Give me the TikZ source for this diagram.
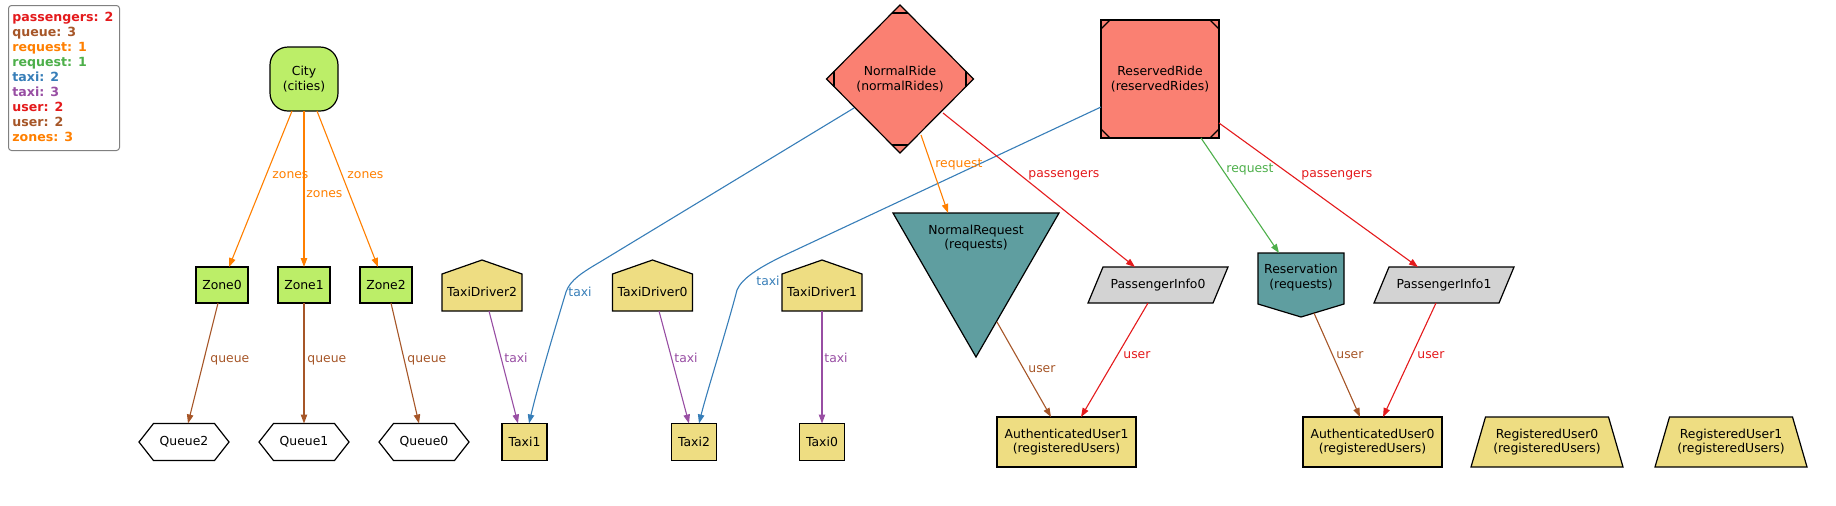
\documentclass[tikz,border=0pt]{standalone}
\usepackage{fontspec}
\setmainfont{DejaVu Sans}
\usetikzlibrary{calc,arrows.meta}
\definecolor{cgreen}{HTML}{BCEE68}
\definecolor{ckhaki}{HTML}{EEDD82}
\definecolor{csalmon}{HTML}{FA8072}
\definecolor{cteal}{HTML}{5F9EA0}
\definecolor{cgray}{HTML}{D3D3D3}
\definecolor{legbd}{HTML}{808080}
\definecolor{sred}{HTML}{E41A1C}
\definecolor{sblue}{HTML}{377EB8}
\definecolor{sgreen}{HTML}{4DAF4A}
\definecolor{spurple}{HTML}{984EA3}
\definecolor{sorange}{HTML}{FF7F00}
\definecolor{sbrown}{HTML}{A65628}
\begin{document}
\begin{tikzpicture}[x=0.5pt,y=-0.5pt,
  txt/.style={font=\fontsize{6.2}{7.35}\selectfont, inner sep=0pt, align=center},
  box/.style={txt, draw=black, line width=0.6pt},
  shp/.style={draw=black, line width=0.6pt, line join=miter},
  conn/.style={line width=0.55pt, -{Triangle[length=4.5pt,width=3.2pt]}},
  lab/.style={font=\fontsize{6.2}{7.35}\selectfont, inner sep=0pt, anchor=base west},
  leg/.style={font=\fontsize{6.3}{7.5}\selectfont\bfseries, inner sep=0pt, anchor=base west}
]
\useasboundingbox (0,0) rectangle (1836,505);

% ---------- legend ----------
\node[draw=legbd, rounded corners=1.5pt, line width=0.5pt, minimum width=55.5pt,
      minimum height=72.5pt, inner sep=0pt, anchor=north west] (legend) at (8,5) {};
\node[leg, text=sred]    (l1) at (12,21.5)  {passengers: 2};
\node[leg, text=sbrown]  (l2) at (12,36.5)  {queue: 3};
\node[leg, text=sorange] (l3) at (12,51.5)  {request: 1};
\node[leg, text=sgreen]  (l4) at (12,66.5)  {request: 1};
\node[leg, text=sblue]   (l5) at (12,81.5)  {taxi: 2};
\node[leg, text=spurple] (l6) at (12,96.5)  {taxi: 3};
\node[leg, text=sred]    (l7) at (12,111.5) {user: 2};
\node[leg, text=sbrown]  (l8) at (12,126.5) {user: 2};
\node[leg, text=sorange] (l9) at (12,141.5) {zones: 3};

% ---------- city & zones ----------
\node[box, fill=cgreen, rounded corners=9pt, minimum width=34pt, minimum height=32pt] (city) at (304,79) {City\\(cities)};
\node[box, fill=cgreen, minimum width=26pt, minimum height=18pt] (z0) at (222,285) {Zone0};
\node[box, fill=cgreen, minimum width=26pt, minimum height=18pt] (z1) at (304,285) {Zone1};
\node[box, fill=cgreen, minimum width=26pt, minimum height=18pt] (z2) at (386,285) {Zone2};

% ---------- queues (hexagons) ----------
\foreach \cx in {184,304,424}{
  \filldraw[shp, fill=white, shift={(\cx,442)}] (-45,0) -- (-30.5,-18.5) -- (30.5,-18.5) -- (45,0) -- (30.5,18.5) -- (-30.5,18.5) -- cycle;
}
\node[txt] (q2) at (184,442) {Queue2};
\node[txt] (q1) at (304,442) {Queue1};
\node[txt] (q0) at (424,442) {Queue0};

% ---------- taxi drivers (houses) ----------
\foreach \cx in {482,652.5,822}{
  \filldraw[shp, fill=ckhaki, shift={(\cx,292)}] (-40,19) -- (-40,-18) -- (0,-32) -- (40,-18) -- (40,19) -- cycle;
}
\node[txt] (td2) at (482,292) {TaxiDriver2};
\node[txt] (td0) at (652.5,292) {TaxiDriver0};
\node[txt] (td1) at (822,292) {TaxiDriver1};

% ---------- taxis ----------
\node[box, fill=ckhaki, minimum width=22.5pt, minimum height=18.5pt] (t1) at (524.5,442) {Taxi1};
\node[box, fill=ckhaki, minimum width=22.5pt, minimum height=18.5pt] (t2) at (694,442) {Taxi2};
\node[box, fill=ckhaki, minimum width=22.5pt, minimum height=18.5pt] (t0) at (822,442) {Taxi0};

% ---------- NormalRide (Mdiamond) ----------
\filldraw[shp, fill=csalmon, shift={(900,79)}] (0,-74) -- (73.5,0) -- (0,74) -- (-73.5,0) -- cycle;
\draw[shp, shift={(900,79)}] (-8,-66) -- (8,-66) (-8,66) -- (8,66) (-66,-8) -- (-66,8) (66,-8) -- (66,8);
\node[txt] (nride) at (900,79) {NormalRide\\(normalRides)};

% ---------- ReservedRide (Msquare) ----------
\node[box, fill=csalmon, minimum width=59pt, minimum height=59pt] (rride) at (1160,79) {ReservedRide\\(reservedRides)};
\draw[shp, shift={(1160,79)}] (-59,-50) -- (-50,-59) (50,-59) -- (59,-50) (59,50) -- (50,59) (-50,59) -- (-59,50);

% ---------- NormalRequest (triangle) ----------
\filldraw[shp, fill=cteal, shift={(976,238)}] (-83,-25) -- (83,-25) -- (0,119) -- cycle;
\node[txt] (nreq) at (976,238) {NormalRequest\\(requests)};

% ---------- Reservation ----------
\filldraw[shp, fill=cteal, shift={(1301,277.5)}] (-43,-24.5) -- (43,-24.5) -- (43,26.5) -- (0,39.5) -- (-43,26.5) -- cycle;
\node[txt] (resv) at (1301,277.5) {Reservation\\(requests)};

% ---------- passenger infos (parallelograms) ----------
\foreach \cx in {1158,1444}{
  \filldraw[shp, fill=cgray, shift={(\cx,285)}] (-55,-18) -- (70,-18) -- (55,18) -- (-70,18) -- cycle;
}
\node[txt] (pi0) at (1158,285) {PassengerInfo0};
\node[txt] (pi1) at (1444,285) {PassengerInfo1};

% ---------- users ----------
\node[box, fill=ckhaki, minimum width=69.5pt, minimum height=25pt] (au1) at (1066.5,442) {AuthenticatedUser1\\(registeredUsers)};
\node[box, fill=ckhaki, minimum width=69.5pt, minimum height=25pt] (au0) at (1372.5,442) {AuthenticatedUser0\\(registeredUsers)};
\foreach \cx in {1547,1731}{
  \filldraw[shp, fill=ckhaki, shift={(\cx,442)}] (-61.5,-25) -- (61.5,-25) -- (76,25) -- (-76,25) -- cycle;
}
\node[txt] (ru0) at (1547,442) {RegisteredUser0\\(registeredUsers)};
\node[txt] (ru1) at (1731,442) {RegisteredUser1\\(registeredUsers)};

% ---------- connectors ----------
\draw[conn, sorange] ($(city)+(-12,32)$) -- ($(z0)+(7,-18)$);
\draw[conn, sorange] ($(city)+(0,32)$) -- ($(z1)+(0,-18)$);
\draw[conn, sorange] ($(city)+(13,32)$) -- ($(z2)+(-8,-18)$);
\node[lab, text=sorange] (lz0) at (272,178) {zones};
\node[lab, text=sorange] (lz1) at (306,197) {zones};
\node[lab, text=sorange] (lz2) at (347,178) {zones};

\draw[conn, sbrown] ($(z0)+(-4,18)$) -- ($(q2)+(4,-18.5)$);
\draw[conn, sbrown] ($(z1)+(0,18)$) -- ($(q1)+(0,-18.5)$);
\draw[conn, sbrown] ($(z2)+(5,18)$) -- ($(q0)+(-5,-18.5)$);
\node[lab, text=sbrown] (lq0) at (210,362) {queue};
\node[lab, text=sbrown] (lq1) at (307,362) {queue};
\node[lab, text=sbrown] (lq2) at (407,362) {queue};

\draw[conn, spurple] ($(td2)+(7,19)$) -- ($(t1)+(-6.5,-18.5)$);
\draw[conn, spurple] ($(td0)+(6.5,19)$) -- ($(t2)+(-5,-18.5)$);
\draw[conn, spurple] ($(td1)+(0,19)$) -- ($(t0)+(0,-18.5)$);
\node[lab, text=spurple] (lt0) at (504,362) {taxi};
\node[lab, text=spurple] (lt1) at (674,362) {taxi};
\node[lab, text=spurple] (lt2) at (824,362) {taxi};

\draw[conn, sblue] ($(nride)+(-46,29)$) -- (600,262) .. controls (583,272) and (570,280) .. (566,292)
   .. controls (556,325) and (538,385) .. ($(t1)+(4.5,-18.5)$);
\draw[conn, sblue] ($(rride)+(-59,28)$) -- (785,255) .. controls (760,267) and (742,278) .. (737,290)
   .. controls (728,325) and (706,395) .. ($(t2)+(5,-18.5)$);
\node[lab, text=sblue] (lb0) at (568,296) {taxi};
\node[lab, text=sblue] (lb1) at (756,285) {taxi};

\draw[conn, sorange] ($(nride)+(21,56)$) -- ($(nreq)+(-28,-25)$);
\node[lab, text=sorange] (lr0) at (935,167) {request};
\draw[conn, sred] ($(nride)+(43,34)$) -- ($(pi0)+(-23,-18)$);
\node[lab, text=sred] (lp0) at (1028,177) {passengers};

\draw[conn, sbrown] ($(nreq)+(21,84)$) -- ($(au1)+(-15.5,-25)$);
\node[lab, text=sbrown] (lu0) at (1028,372) {user};
\draw[conn, sred] ($(pi0)+(-10,18)$) -- ($(au1)+(14.5,-25)$);
\node[lab, text=sred] (lu1) at (1123,358) {user};

\draw[conn, sgreen] ($(rride)+(41,59)$) -- ($(resv)+(-22,-24.5)$);
\node[lab, text=sgreen] (lr1) at (1226,172) {request};
\draw[conn, sred] ($(rride)+(59,44)$) -- ($(pi1)+(-26,-18)$);
\node[lab, text=sred] (lp1) at (1301,177) {passengers};

\draw[conn, sbrown] ($(resv)+(13,35.6)$) -- ($(au0)+(-12.5,-25)$);
\node[lab, text=sbrown] (lu2) at (1336,358) {user};
\draw[conn, sred] ($(pi1)+(-8,18)$) -- ($(au0)+(10.5,-25)$);
\node[lab, text=sred] (lu3) at (1417,358) {user};
\end{tikzpicture}
\end{document}
